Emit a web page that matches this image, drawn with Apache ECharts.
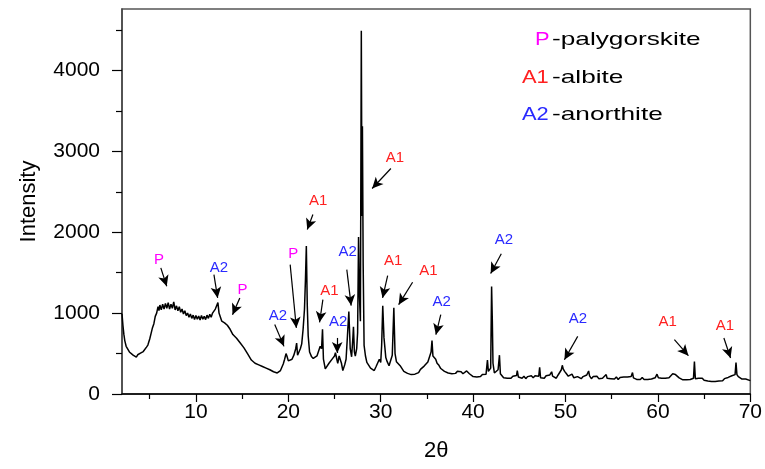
<!DOCTYPE html>
<html>
<head>
<meta charset="utf-8">
<script src="https://cdn.jsdelivr.net/npm/echarts@6/dist/echarts.min.js"></script>
<style>html,body{margin:0;padding:0;background:#fff}#c{width:765px;height:469px}</style>
</head>
<body>
<div id="c"></div>
<script>
const twoTheta = [
2.0,2.1,2.2,2.3,2.45,2.6,2.8,3.0,3.2,3.4,3.55,3.7,3.85,4.0,4.15,4.3,4.5,4.65,4.8,5.0,
5.15,5.3,5.45,5.6,5.75,5.9,6.0,6.1,6.25,6.4,6.55,6.7,6.85,7.0,
7.15,7.3,7.45,7.6,7.75,7.9,8.05,8.2,8.35,8.5,8.65,8.8,8.95,9.1,9.25,9.4,9.55,9.7,9.85,
10.0,10.15,10.3,10.45,10.6,10.75,10.9,11.05,11.2,11.35,11.5,11.65,11.8,11.95,12.1,12.25,12.38,12.5,12.65,12.8,12.95,
13.1,13.25,13.4,13.55,13.7,13.85,14.0,14.2,14.4,14.6,14.8,15.0,15.2,15.4,15.6,15.8,16.0,16.2,16.4,16.6,16.8,17.0,17.2,17.4,17.6,17.8,18.0,18.2,18.4,18.6,18.8,19.0,
19.15,19.3,19.45,19.6,19.75,19.85,20.0,20.2,20.4,20.6,20.8,20.9,21.0,21.15,21.3,21.45,21.6,21.75,21.85,21.95,22.05,
22.15,22.3,22.5,22.7,22.9,23.1,23.3,23.45,23.6,23.7,23.8,24.0,24.2,24.4,24.6,24.8,25.0,25.1,25.25,25.35,25.5,25.6,25.75,25.9,26.1,26.25,26.4,26.55,26.7,26.85,27.0,
27.05,27.15,27.25,27.4,27.5,27.6,27.7,27.8,27.9,27.97,28.02,28.1,28.2,28.35,
28.5,28.7,28.9,29.1,29.3,29.5,29.7,29.85,30.0,30.1,30.22,30.35,30.45,30.55,30.7,30.9,31.1,31.25,31.42,31.55,31.7,31.9,
32.1,32.3,32.5,32.7,32.9,33.1,33.3,33.5,33.7,33.9,34.1,34.3,34.5,34.7,34.9,35.1,35.3,
35.45,35.55,35.65,35.8,35.95,36.1,36.3,36.5,36.7,36.9,37.1,37.3,37.5,37.7,37.9,38.1,38.3,38.5,38.7,38.9,39.1,39.3,39.45,39.6,39.8,40.0,40.2,40.4,40.6,40.8,41.0,41.2,41.4,
41.55,41.65,41.8,41.9,42.0,42.08,42.15,42.3,42.5,42.7,42.85,42.95,
43.1,43.3,43.5,43.7,43.9,44.1,44.3,44.5,44.7,44.78,44.9,45.1,45.3,45.5,45.7,45.9,46.1,46.3,46.5,46.7,46.9,47.1,
47.2,47.3,47.5,47.7,47.9,48.1,48.3,48.5,48.6,48.8,49.0,49.2,49.4,49.55,49.65,49.75,49.9,50.1,50.3,
50.5,50.7,50.9,51.1,51.3,51.5,51.7,51.9,52.1,52.3,52.5,52.6,52.8,53.0,53.2,53.4,53.6,53.8,54.0,54.2,54.4,54.5,
54.7,54.9,55.1,55.3,55.5,55.7,55.9,56.1,56.3,56.5,56.7,56.9,57.1,57.25,57.35,57.5,57.7,57.9,58.1,58.3,58.5,58.7,58.9,59.1,59.3,59.5,59.7,59.9,
60.05,60.2,60.4,60.6,60.8,61.0,61.2,61.4,61.6,61.75,61.9,62.1,62.3,62.5,62.7,62.9,63.1,63.3,63.5,63.7,63.85,63.95,64.05,
64.2,64.4,64.6,64.8,65.0,65.2,65.4,65.6,65.8,66.0,66.2,66.4,66.6,66.8,67.0,67.2,67.4,67.6,67.8,68.0,68.2,68.35,68.45,68.55,68.7,68.9,69.1,69.3,69.5,69.7,70.0
];
const intensity = [
990,850,740,660,590,575,520,515,480,490,455,485,470,505,485,525,540,580,605,680,
750,820,870,960,1000,1080,1030,1100,1040,1110,1050,1120,1060,1130,
1050,1110,1060,1140,1040,1090,1030,1080,1010,1050,990,1030,970,1000,950,990,935,975,920,
970,925,965,915,970,925,960,920,975,935,985,950,1000,980,1050,1060,1130,1000,980,900,920,
880,895,850,870,800,785,735,730,690,675,630,620,570,550,495,475,420,415,380,390,360,370,340,350,320,330,300,305,275,285,260,275,
290,330,370,430,500,470,410,400,430,480,560,630,480,500,560,620,800,1050,1400,1830,1100,
720,520,465,440,420,470,490,590,560,800,430,310,320,380,400,440,470,510,430,380,470,460,380,290,360,430,720,1020,560,460,720,
830,520,470,560,760,1940,1200,900,4490,2200,3310,1600,600,470,
390,370,320,325,290,340,350,430,390,600,1090,700,720,450,400,350,370,480,1065,500,400,380,
350,330,280,285,255,265,240,255,245,265,265,305,310,345,360,395,390,
520,660,470,450,430,380,355,315,310,280,290,260,280,250,265,255,280,270,275,250,270,285,300,250,235,215,230,210,230,215,240,225,245,
420,280,265,320,1330,900,380,260,240,300,480,250,
230,200,220,195,215,195,220,200,230,290,210,225,195,220,190,215,195,225,200,225,205,220,
330,200,220,195,225,205,235,275,220,215,195,235,250,300,355,310,280,250,220,
205,245,200,180,215,225,190,215,200,235,285,225,190,215,195,220,190,210,195,215,240,195,
215,190,210,185,210,180,205,185,210,190,210,195,215,265,200,205,180,200,180,205,180,200,180,200,185,205,200,245,
200,185,195,175,195,180,200,215,250,265,240,235,200,190,175,195,175,195,180,200,195,400,190,
185,195,175,195,170,180,160,175,155,170,155,175,160,180,165,190,180,205,195,225,210,240,390,240,215,200,185,170,185,165,165
];
const xTickLabels = [10,20,30,40,50,60,70];
const yTickLabels = [0,1000,2000,3000,4000];
// peak annotations: phase label, label position, arrow start, arrow end (data units)
const annLabels = ['P','A2','P','A2','P','A1','A1','A2','A2','A1','A1','A1','A2','A2','A2','A1','A1'];
const annText = [[6.0,1662],[12.5,1560],[15.04,1282],[18.88,960],[20.54,1736],[23.24,2392],[24.46,1278],[25.4,886],[26.43,1752],[31.55,2921],[31.36,1641],[35.17,1517],[36.6,1134],[43.34,1901],[51.35,932],[61.06,886],[67.25,845]];
const annFrom = [[6.2,1560],[11.95,1476],[14.75,1188],[18.53,858],[20.2,1600],[22.66,2219],[23.74,1167],[25.29,693],[26.33,1538],[31.1,2788],[30.75,1464],[33.45,1381],[36.5,981],[43.05,1733],[51.32,713],[61.78,672],[67.14,693]];
const annTo = [[6.84,1332],[12.35,1188],[13.96,981],[19.53,589],[20.87,817],[22.05,2033],[23.38,886],[25.29,507],[26.8,1093],[29.07,2541],[30.2,1188],[31.94,1105],[35.97,734],[41.9,1489],[49.88,424],[63.3,474],[67.86,445]];
const legendCodes = ['P','A1','A2'];
const legendNames = ['-palygorskite','-albite','-anorthite'];

const phaseColor = {P:'#ff00ff', A1:'#ff2020', A2:'#2a2aff'};
const FONT = '"Liberation Sans", Arial, sans-serif';

const lineData = twoTheta.map((x,i)=>[x,intensity[i]]);
const mpData = annLabels.map((t,i)=>({
  coord: annText[i], value: t,
  label: {formatter: t, color: phaseColor[t]}
}));
const mlData = annFrom.map((f,i)=>[{coord:f},{coord:annTo[i]}]);

const chart = echarts.init(document.getElementById('c'), null, {renderer:'canvas'});
const legendY = [41, 79, 116];
const graphic = [];
legendCodes.forEach((c,i)=>{
  graphic.push({type:'text', x: c==='P'?535:522, y: legendY[i]-11, scaleX:1.15,
    style:{text:c, fill:phaseColor[c], font:'19px '+FONT}});
  graphic.push({type:'text', x:552, y:legendY[i]-11, scaleX:1.38,
    style:{text:legendNames[i], fill:'#000', font:'19px '+FONT}});
});

chart.setOption({
  animation:false,
  backgroundColor:'#fff',
  grid:{left:122, right:13, top:9, bottom:75, show:true, borderColor:'#555', borderWidth:1.5},
  xAxis:[{
    type:'value', min:2, max:70, position:'bottom',
    name:'2θ', nameLocation:'middle', nameGap:46,
    nameTextStyle:{fontSize:22, color:'#000', fontFamily:FONT},
    axisLine:{show:true, lineStyle:{color:'#000', width:1.5}},
    axisTick:{show:true, inside:false, length:8, customValues:xTickLabels, lineStyle:{color:'#000', width:1.2}},
    axisLabel:{customValues:xTickLabels, fontSize:21, color:'#000', fontFamily:FONT, margin:8, formatter:v=>String(v)},
    splitLine:{show:false}
  },{
    type:'value', min:2, max:70, position:'bottom',
    axisLine:{show:false},
    axisTick:{show:true, inside:false, length:5, customValues:[5,15,25,35,45,55,65], lineStyle:{color:'#000', width:1.2}},
    axisLabel:{show:false}, splitLine:{show:false}
  }],
  yAxis:[{
    type:'value', min:0, max:4760, position:'left',
    name:'Intensity', nameLocation:'middle', nameGap:82,
    nameTextStyle:{fontSize:22, color:'#000', fontFamily:FONT},
    axisLine:{show:true, lineStyle:{color:'#444', width:1.5}},
    axisTick:{show:true, inside:false, length:10, customValues:yTickLabels, lineStyle:{color:'#000', width:1.2}},
    axisLabel:{customValues:yTickLabels, fontSize:21, color:'#000', fontFamily:FONT, margin:22, formatter:v=>String(v)},
    splitLine:{show:false}
  },{
    type:'value', min:0, max:4760, position:'left',
    axisLine:{show:false},
    axisTick:{show:true, inside:false, length:6, customValues:[500,1500,2500,3500,4500], lineStyle:{color:'#000', width:1.2}},
    axisLabel:{show:false}, splitLine:{show:false}
  }],
  graphic: graphic,
  series:[{
    type:'line', xAxisIndex:0, yAxisIndex:0, data:lineData,
    showSymbol:false, symbol:'none',
    lineStyle:{color:'#000', width:1.5},
    markPoint:{
      symbol:'circle', symbolSize:0, silent:true,
      label:{show:true, position:'inside', fontSize:15, fontFamily:FONT},
      data: mpData
    },
    markLine:{
      silent:true, symbol:['none','arrow'], symbolSize:[8,11],
      lineStyle:{color:'#000', width:1.2, type:'solid'},
      label:{show:false},
      data: mlData
    }
  }]
});
</script>
</body>
</html>
